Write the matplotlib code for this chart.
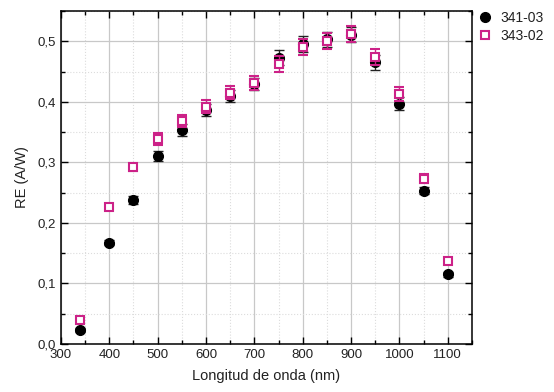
import matplotlib
matplotlib.use("Agg")
import matplotlib.pyplot as plt
from matplotlib.ticker import MultipleLocator, FuncFormatter

plt.rcParams['font.family'] = ['Liberation Sans', 'DejaVu Sans']

wavelength = [340, 400, 450, 500, 550, 600, 650, 700, 750, 800, 850, 900, 950, 1000, 1050, 1100]
re_341 = [0.023, 0.167, 0.238, 0.310, 0.353, 0.386, 0.409, 0.430, 0.473, 0.495, 0.503, 0.511, 0.465, 0.397, 0.253, 0.115]
err_341 = [0.003, 0.004, 0.006, 0.008, 0.010, 0.010, 0.010, 0.010, 0.012, 0.013, 0.012, 0.013, 0.012, 0.011, 0.006, 0.004]
re_343 = [0.040, 0.226, 0.292, 0.338, 0.368, 0.392, 0.415, 0.431, 0.463, 0.490, 0.500, 0.512, 0.474, 0.413, 0.273, 0.137]
err_343 = [0.004, 0.004, 0.006, 0.010, 0.010, 0.011, 0.011, 0.012, 0.013, 0.013, 0.013, 0.014, 0.013, 0.011, 0.007, 0.004]
labels = ['341-03', '343-02']

pink = '#cc2288'

fig = plt.figure(figsize=(5.54, 3.92), dpi=100)
ax = fig.add_axes([0.110, 0.1224, 0.742, 0.8496])

ax.errorbar(wavelength, re_341, yerr=err_341, fmt='o', color='black', ms=7,
            ecolor='#222222', elinewidth=1, capsize=3.5, capthick=1, label=labels[0], zorder=3)
ax.errorbar(wavelength, re_343, yerr=err_343, fmt='s', color=pink, ms=6,
            mfc='white', mec=pink, mew=1.5, ecolor=pink, elinewidth=1, capsize=3.5,
            capthick=1, label=labels[1], zorder=4)

ax.set_xlim(300, 1150)
ax.set_ylim(0, 0.55)
ax.xaxis.set_major_locator(MultipleLocator(100))
ax.xaxis.set_minor_locator(MultipleLocator(50))
ax.yaxis.set_major_locator(MultipleLocator(0.1))
ax.yaxis.set_minor_locator(MultipleLocator(0.05))
ax.yaxis.set_major_formatter(FuncFormatter(lambda v, p: f"{v:.1f}".replace('.', ',')))

ax.grid(which='major', color='#c8c8c8', linestyle='-', linewidth=0.9, zorder=0)
ax.grid(which='minor', color='#dcdcdc', linestyle=':', linewidth=0.8, zorder=0)
ax.set_axisbelow(True)

ax.tick_params(which='both', direction='in', top=True, right=True, labelsize=9.5, colors='black',
               labelcolor='#222222')
ax.tick_params(which='major', length=5, width=1)
ax.tick_params(which='minor', length=3, width=1)
for s in ax.spines.values():
    s.set_linewidth(1.1)

ax.set_xlabel('Longitud de onda (nm)', fontsize=10.5, labelpad=6, color='#222222')
ax.set_ylabel('RE (A/W)', fontsize=10.5, labelpad=6, color='#222222')

handles, labs = ax.get_legend_handles_labels()
handles = [h[0] for h in handles]
fig.legend(handles, labs, loc='upper left', bbox_to_anchor=(0.848, 0.993), frameon=False,
           fontsize=10, handletextpad=0.6, handlelength=1.0, labelspacing=0.3,
           borderaxespad=0.2, labelcolor='#222222')

fig.savefig('out.png', dpi=100)
